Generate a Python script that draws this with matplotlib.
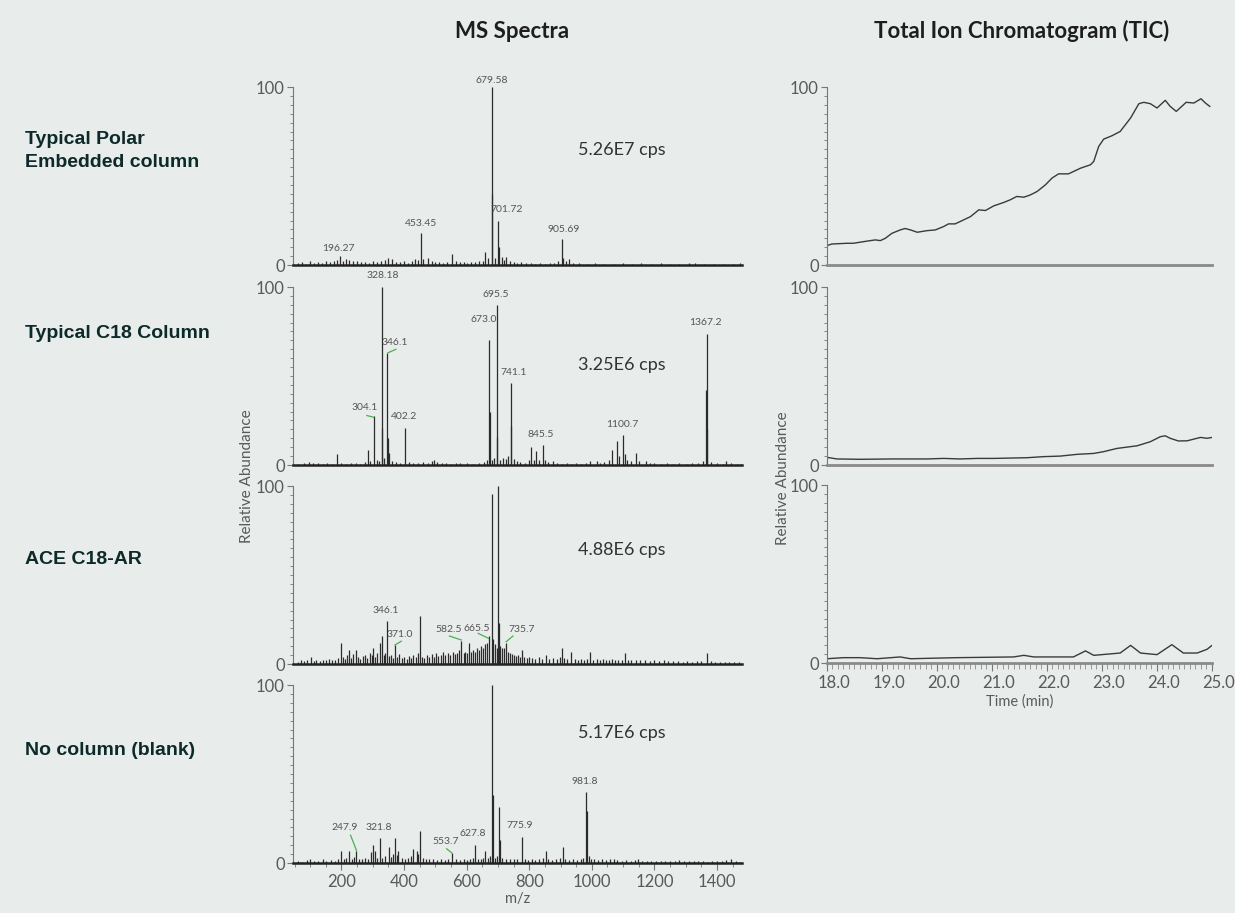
import matplotlib.pyplot as plt
import matplotlib.transforms as mtransforms
from matplotlib.ticker import MultipleLocator, FixedLocator

BG = '#e8ecea'
INK = '#2b2b2b'
GREY = '#5a5a5a'
GREEN = '#4caf50'
NARROW = ['Lato', 'DejaVu Sans']

row_names = ["Typical Polar\nEmbedded column", "Typical C18 Column", "ACE C18-AR", "No column (blank)"]
cps_text = ["5.26E7 cps", "3.25E6 cps", "4.88E6 cps", "5.17E6 cps"]

# --- MS spectra (m/z, relative abundance) ---
polar_mz = [62, 75, 88, 100, 112, 125, 138, 150, 163, 175, 185, 196.27, 205, 214, 225, 238, 250, 262, 275, 288,
            300, 312, 325, 338, 350, 362, 375, 388, 400, 412, 425, 436, 445, 453.45, 462, 475, 488, 500, 512, 525,
            538, 553, 565, 578, 590, 602, 615, 628, 640, 652, 659, 668, 679.58, 681.6, 690, 701.72, 703.7, 712, 720,
            726, 738, 750, 762, 775, 790, 805, 820, 835, 850, 865, 880, 893, 905.69, 907.7, 918, 927, 940, 960, 985,
            1010, 1040, 1070, 1100, 1130, 1156, 1190, 1220, 1250, 1280, 1310, 1329, 1360, 1390, 1420, 1450, 1475]
polar_int = [1.0, 1.5, 0.8, 2.5, 1.2, 1.8, 1.0, 2.2, 1.5, 2.0, 3.0, 5.0, 2.5, 3.5, 2.8, 2.0, 2.5, 1.5, 1.8, 1.2,
             2.0, 1.5, 2.2, 3.0, 4.0, 3.2, 1.8, 1.5, 2.0, 1.2, 2.5, 3.5, 3.0, 18, 3.2, 4.0, 2.0, 1.5, 1.8, 1.2,
             1.5, 6.0, 2.0, 1.5, 1.8, 1.2, 1.5, 1.8, 2.0, 2.5, 7.5, 4.0, 100, 40, 4.0, 25, 10, 4.5, 3.0,
             4.5, 2.0, 1.5, 1.2, 1.5, 1.0, 1.2, 0.8, 1.0, 0.8, 1.0, 1.2, 2.0, 14.5, 4.0, 2.0, 3.5, 1.2, 1.0, 0.8,
             1.0, 0.8, 0.7, 1.0, 0.8, 1.2, 0.7, 0.9, 0.8, 0.7, 0.9, 1.2, 0.8, 0.7, 0.8, 0.7, 0.9]

c18_mz = [62, 80, 95, 110, 125, 140, 155, 170, 187, 200, 215, 230, 245, 260, 275, 285, 292, 304.1, 312, 320,
          328.18, 330.2, 336, 346.1, 348.1, 352, 362, 375, 388, 402.2, 415, 430, 445, 460, 475, 490, 497, 505, 520,
          535, 550, 565, 580, 600, 620, 640, 655, 665, 673.0, 675, 680, 687, 695.5, 697.5, 705, 715, 725, 733,
          741.1, 743, 750, 760, 770, 785, 800, 806, 815, 821, 832, 845.5, 850, 860, 875, 890, 905, 920, 935, 950,
          965, 980, 995, 1016, 1025, 1040, 1055, 1065, 1080, 1088, 1100.7, 1105, 1112, 1125, 1140, 1150, 1173,
          1185, 1200, 1220, 1240, 1260, 1280, 1300, 1320, 1340, 1355, 1365, 1367.2, 1369, 1380, 1400, 1420, 1430,
          1445, 1465, 1478]
c18_int = [0.8, 1.0, 1.5, 1.0, 1.2, 0.8, 1.0, 0.8, 6.0, 1.0, 0.8, 1.2, 1.0, 0.8, 1.5, 8.5, 2.0, 27.5, 3.0, 2.0,
           100, 21, 4.0, 63, 15, 7.0, 2.5, 1.5, 1.2, 21, 1.5, 1.0, 1.2, 1.5, 1.0, 2.0, 3.0, 1.5, 1.0,
           1.2, 0.8, 1.0, 1.2, 1.0, 0.8, 1.2, 1.5, 3.0, 70.5, 30, 3.0, 4.0, 90, 16, 3.0, 4.0, 3.5, 5.0,
           46, 22, 3.5, 2.0, 1.5, 1.2, 3.0, 10, 3.0, 8.0, 3.0, 11, 3.0, 1.5, 2.5, 1.0, 0.8, 1.0, 0.8, 1.0,
           0.8, 1.2, 2.5, 2.5, 1.2, 1.5, 3.0, 8.5, 13.5, 5.0, 17, 6.0, 3.0, 2.0, 7.0, 2.0, 2.0,
           1.2, 1.0, 0.8, 1.0, 0.8, 1.0, 0.8, 1.0, 1.2, 2.0, 42, 73.5, 20, 1.5, 1.0, 0.8, 2.5,
           1.0, 0.8, 0.8]

ace_mz = [62, 70, 80, 90, 104, 112, 120, 130, 140, 150, 160, 170, 180, 190, 199, 205, 212, 218, 223, 230,
          238, 245, 252, 260, 268, 275, 283, 290, 296, 301, 308, 315, 322, 329, 335, 340, 346.1, 352, 358, 364,
          371.0, 378, 385, 392, 400, 408, 415, 422, 430, 438, 445, 452, 458, 465, 472, 480, 488, 495, 502, 510,
          518, 525, 532, 540, 547, 555, 562, 570, 576, 582.5, 590, 596, 602, 609, 615, 621, 627, 633, 640, 646,
          652, 658, 665.5, 670, 679.6, 684, 690, 696, 701.7, 704, 708, 713, 719, 726, 732, 738, 744, 750, 757,
          765, 772, 776, 784, 792, 800, 810, 820, 830, 840, 852, 862, 875, 888, 898, 905, 912, 920, 933, 945,
          955, 965, 975, 985, 994, 1005, 1015, 1025, 1035, 1045, 1055, 1065, 1075, 1085, 1095, 1106, 1115, 1125,
          1140, 1155, 1170, 1185, 1200, 1215, 1230, 1245, 1260, 1275, 1290, 1305, 1320, 1335, 1350, 1368, 1380,
          1395, 1410, 1425, 1440, 1455, 1470]
ace_int = [1.0, 2.0, 1.5, 2.5, 4.0, 1.5, 2.0, 1.5, 2.5, 2.0, 3.0, 2.0, 2.5, 3.5, 12, 4.0, 3.0, 5.0, 8.0, 3.5,
           5.5, 8.0, 4.0, 3.0, 4.5, 5.0, 3.5, 6.0, 5.0, 9.0, 4.0, 6.0, 12, 16, 5.0, 6.0, 24, 4.5, 5.0, 3.5,
           10.5, 4.0, 5.5, 3.5, 4.0, 3.0, 4.5, 3.5, 5.0, 4.0, 6.0, 27, 4.0, 3.5, 5.0, 4.0, 5.5, 4.0, 6.0, 4.5,
           5.0, 6.5, 5.0, 6.0, 5.0, 7.0, 5.5, 6.0, 8.0, 13, 6.0, 7.0, 6.0, 12, 7.0, 8.0, 7.0, 9.0, 8.0, 10,
           9.0, 11, 12, 16, 95.5, 14, 11, 9.0, 100, 23, 10, 9.0, 9.0, 12, 7.0, 6.0, 5.5, 5.0, 4.5,
           5.0, 4.0, 8.0, 4.0, 3.5, 4.0, 3.5, 3.0, 4.0, 3.0, 5.0, 3.0, 3.5, 3.0, 4.0, 9.0, 3.5, 3.0, 7.0, 3.0,
           2.5, 3.0, 2.5, 3.0, 7.0, 2.5, 3.0, 2.5, 3.0, 2.5, 2.0, 3.0, 2.5, 2.0, 2.5, 6.0, 2.0, 2.5,
           2.0, 2.5, 2.0, 1.5, 2.0, 1.5, 2.0, 1.5, 1.8, 1.5, 1.2, 1.5, 1.2, 1.5, 1.8, 6.0, 1.5,
           1.2, 1.0, 1.2, 1.0, 1.2, 1.0]

blank_mz = [62, 75, 90, 100, 112, 125, 140, 152, 165, 178, 190, 199, 208, 215, 223, 232, 240, 247.9, 256, 265,
            275, 285, 295, 301, 306, 314, 321.8, 330, 340, 352, 358, 364, 370, 376, 382, 392, 402, 412, 422, 430,
            440, 446, 452, 460, 470, 480, 492, 505, 518, 530, 540, 553.7, 565, 578, 590, 600, 610, 620, 627.8, 635,
            645, 652, 659, 668, 674, 680.6, 683, 690, 697, 703.8, 706, 714, 725, 738, 750, 762, 775.9, 785, 795, 808,
            820, 832, 845, 852, 860, 872, 885, 897, 908, 915, 928, 940, 952, 965, 972, 981.8, 984, 990, 997, 1008,
            1020, 1032, 1045, 1058, 1070, 1082, 1095, 1110, 1125, 1138, 1148, 1160, 1175, 1190, 1205, 1220, 1235,
            1250, 1265, 1280, 1295, 1310, 1325, 1340, 1355, 1370, 1385, 1400, 1415, 1430, 1446, 1460, 1475]
blank_int = [1.0, 0.8, 1.5, 2.5, 1.0, 1.2, 2.0, 1.0, 1.5, 1.2, 2.5, 7.0, 2.0, 3.0, 6.5, 2.5, 3.5, 7.0, 2.5, 2.0,
             3.0, 2.5, 6.0, 10, 7.0, 3.0, 14, 3.0, 4.0, 9.0, 3.5, 5.0, 14, 4.5, 7.0, 3.0, 2.0, 3.0, 4.0, 8.0,
             7.0, 5.0, 18, 3.0, 2.5, 2.0, 2.5, 1.5, 2.0, 1.5, 2.0, 5.5, 2.0, 1.5, 2.0, 1.5, 2.0, 3.0, 10, 2.5,
             2.0, 3.0, 7.0, 3.0, 4.0, 100, 38, 3.0, 4.0, 31.5, 13, 3.0, 2.0, 2.5, 2.0, 2.5, 14.6, 2.0, 1.5, 2.0,
             1.5, 2.0, 3.0, 7.0, 2.0, 1.5, 2.0, 3.0, 9.0, 2.0, 1.5, 2.0, 1.5, 2.5, 3.0, 40, 29, 4.0, 2.5, 2.0,
             1.5, 2.0, 1.5, 2.0, 2.5, 1.5, 1.2, 1.5, 1.2, 1.5, 2.5, 1.2, 1.0, 1.2, 1.0, 1.2, 1.0,
             1.2, 1.0, 1.5, 1.0, 1.2, 1.0, 1.2, 1.0, 0.8, 1.2, 1.0, 1.2, 1.5, 2.5, 1.0, 0.8]

# peak labels: text, label position (m/z, abundance), optional green leader
polar_labels = [("196.27", 190, 9.3, None), ("453.45", 455, 23.4, None), ("679.58", 681, 103.5, None),
                ("701.72", 728, 31, None), ("905.69", 910, 20, None)]
c18_labels = [("328.18", 331, 106.5, None), ("695.5", 692, 96, None), ("673.0", 653, 82, None),
              ("346.1", 370, 68.6, (348, 63, 374, 65)), ("741.1", 750, 51.8, None),
              ("304.1", 273, 32.3, (281, 27.8, 303, 26.8)), ("402.2", 399, 27, None),
              ("845.5", 838, 17.4, None), ("1100.7", 1098, 23, None), ("1367.2", 1363, 80, None)]
ace_labels = [("346.1", 340, 29.8, None), ("371.0", 387, 16.3, (371, 10.7, 391, 12.8)),
              ("582.5", 542, 19.5, (545, 15.7, 583, 13.5)), ("665.5", 631, 20, (637, 17.2, 670, 14.4)),
              ("735.7", 776, 19.5, (748, 15.7, 726, 12.5))]
blank_labels = [("247.9", 209, 20, (229, 15.6, 248, 7)), ("321.8", 318, 20, None),
                ("553.7", 533, 11.8, (536, 8, 553, 5.6)), ("627.8", 620, 16.5, None),
                ("775.9", 771, 21, None), ("981.8", 977, 46, None)]

# --- TIC traces (time in min, relative abundance) ---
tic_polar_t = [18.0, 18.09, 18.36, 18.48, 18.6, 18.79, 18.88, 18.97, 19.06, 19.18, 19.33, 19.42, 19.52, 19.64,
               19.82, 19.97, 20.12, 20.21, 20.33, 20.42, 20.61, 20.76, 20.88, 21.03, 21.21, 21.33, 21.45, 21.58,
               21.70, 21.82, 21.97, 22.09, 22.21, 22.39, 22.48, 22.61, 22.79, 22.85, 22.94, 23.03, 23.18, 23.33,
               23.52, 23.67, 23.76, 23.88, 24.0, 24.15, 24.24, 24.35, 24.45, 24.53, 24.67, 24.8, 24.88, 24.96]
tic_polar_i = [10.9, 11.8, 12.2, 12.2, 12.8, 13.7, 14.1, 13.7, 15.0, 17.8, 19.7, 20.5, 19.7, 18.4,
               19.3, 19.7, 21.6, 23.1, 23.1, 24.4, 27.2, 31.0, 30.6, 33.2, 35.1, 36.6, 38.5, 38.1,
               39.4, 41.3, 45.0, 48.8, 51.2, 51.2, 52.5, 54.4, 56.3, 58.2, 66.6, 70.7, 72.6, 75.0,
               82.6, 90.6, 91.4, 90.6, 88.2, 92.5, 89.1, 86.3, 89.1, 91.4, 91.0, 93.4, 91.0, 89.1]

tic_c18_t = [18.0, 18.18, 18.6, 19.2, 19.82, 20.12, 20.42, 20.73, 21.03, 21.64, 21.94, 22.24, 22.55, 22.85,
             23.03, 23.27, 23.64, 23.88, 24.06, 24.15, 24.24, 24.39, 24.55, 24.79, 24.91, 25.0]
tic_c18_i = [4.3, 3.4, 3.2, 3.4, 3.4, 3.7, 3.4, 3.7, 3.7, 4.1, 4.7, 5.0, 6.0, 6.5,
             7.5, 9.3, 10.8, 13.1, 15.9, 16.4, 15.0, 13.5, 13.6, 15.5, 15.0, 15.5]

tic_ace_t = [18.0, 18.3, 18.6, 18.91, 19.33, 19.52, 20.36, 21.39, 21.58, 21.76, 22.48, 22.7, 22.85, 23.33,
             23.52, 23.7, 24.0, 24.27, 24.48, 24.73, 24.91, 25.0]
tic_ace_i = [2.4, 3.0, 3.0, 2.4, 3.4, 2.4, 3.0, 3.4, 4.3, 3.4, 3.4, 6.8, 4.3, 5.6,
             9.9, 5.6, 4.7, 10.3, 5.6, 5.6, 7.7, 9.9]

spectra = [(polar_mz, polar_int, polar_labels), (c18_mz, c18_int, c18_labels),
           (ace_mz, ace_int, ace_labels), (blank_mz, blank_int, blank_labels)]
tics = [(tic_polar_t, tic_polar_i), (tic_c18_t, tic_c18_i), (tic_ace_t, tic_ace_i)]

W, H = 1235, 913
fig = plt.figure(figsize=(W / 100, H / 100), dpi=100, facecolor=BG)


def px_axes(x0, y_top, x1, y_bot):
    return fig.add_axes([x0 / W, 1 - y_bot / H, (x1 - x0) / W, (y_bot - y_top) / H])


def style_y(ax):
    ax.set_facecolor('none')
    for s in ('top', 'right'):
        ax.spines[s].set_visible(False)
    ax.spines['left'].set_color('#777777')
    ax.spines['left'].set_linewidth(0.8)
    ax.set_ylim(0, 100)
    ax.yaxis.set_major_locator(FixedLocator([0, 100]))
    ax.yaxis.set_minor_locator(MultipleLocator(5))
    ax.tick_params(axis='y', which='major', length=4, width=0.8, color='#777777', pad=2,
                   labelsize=12, labelcolor=GREY)
    ax.tick_params(axis='y', which='minor', length=2, width=0.6, color='#777777')
    for t in ax.get_yticklabels():
        t.set_family(NARROW)


spec_tops = [87, 287, 486, 685]
for k, (mz, inten, labels) in enumerate(spectra):
    ax = px_axes(293, spec_tops[k], 742, spec_tops[k] + 178)
    style_y(ax)
    ax.vlines(mz, 0, inten, color=INK, lw=0.9)
    ax.set_xlim(45, 1480)
    ax.spines['bottom'].set_color('#222222')
    ax.spines['bottom'].set_linewidth(1.8)
    for txt, lx, ly, lead in labels:
        ax.text(lx, ly, txt, ha='center', va='center', fontsize=7.5, color='#555555',
                family=NARROW, clip_on=False)
        if lead is not None:
            ax.plot([lead[0], lead[2]], [lead[1], lead[3]], color=GREEN, lw=0.9, clip_on=False)
    ax.text(1095, [64.5, 56, 64, 72.8][k], cps_text[k], ha='center', va='center',
            fontsize=13, color='#333333', family=NARROW)
    if k < 3:
        ax.tick_params(axis='x', which='both', bottom=False, labelbottom=False)
    else:
        ax.xaxis.set_major_locator(MultipleLocator(200))
        ax.xaxis.set_minor_locator(MultipleLocator(50))
        ax.tick_params(axis='x', which='major', length=5, width=0.8, color='#777777',
                       labelsize=12, labelcolor=GREY, pad=3)
        ax.tick_params(axis='x', which='minor', length=3, width=0.6, color='#777777')
        for t in ax.get_xticklabels():
            t.set_family(NARROW)
        ax.set_xlabel('m/z', fontsize=10.5, color=GREY, family=NARROW, labelpad=1)

tic_tops = [87, 287, 485]
shift = mtransforms.ScaledTranslation(7 / 100, 0, fig.dpi_scale_trans)
for k, (t, inten) in enumerate(tics):
    ax = px_axes(827, tic_tops[k], 1212, tic_tops[k] + 178)
    style_y(ax)
    ax.plot(t, inten, color='#3a3a3a', lw=1.0)
    ax.set_xlim(18, 25)
    ax.spines['bottom'].set_color('#8a8a8a')
    ax.spines['bottom'].set_linewidth(2.0)
    if k < 2:
        ax.tick_params(axis='x', which='both', bottom=False, labelbottom=False)
    else:
        ax.xaxis.set_major_locator(MultipleLocator(1.0))
        ax.xaxis.set_minor_locator(MultipleLocator(0.1))
        ax.xaxis.set_major_formatter('{x:.1f}')
        ax.tick_params(axis='x', which='major', length=6, width=0.8, color='#777777',
                       labelsize=12, labelcolor=GREY, pad=3)
        ax.tick_params(axis='x', which='minor', length=4, width=0.5, color='#777777')
        for tl in ax.get_xticklabels():
            tl.set_family(NARROW)
            tl.set_transform(tl.get_transform() + shift)
        ax.set_xlabel('Time (min)', fontsize=10.5, color=GREY, family=NARROW, labelpad=2)

# axis titles and y labels
fig.text(512 / W, 1 - 31 / H, 'MS Spectra', ha='center', va='center', fontsize=16,
         fontweight='bold', color='#1e1e1e', family=NARROW)
fig.text(1022 / W, 1 - 31 / H, 'Total Ion Chromatogram (TIC)', ha='center', va='center',
         fontsize=16, fontweight='bold', color='#1e1e1e', family=NARROW)
fig.text(247 / W, 1 - 476 / H, 'Relative Abundance', rotation=90, ha='center', va='center',
         fontsize=11, color=GREY, family=NARROW)
fig.text(783 / W, 1 - 478 / H, 'Relative Abundance', rotation=90, ha='center', va='center',
         fontsize=11, color=GREY, family=NARROW)

row_y = [151, 333, 560, 750]
for name, y in zip(row_names, row_y):
    fig.text(25 / W, 1 - y / H, name, ha='left', va='center', fontsize=14, fontweight='bold',
             color='#0d2a2a', family=['Liberation Sans', 'DejaVu Sans'], linespacing=1.4)

fig.savefig('out.png', dpi=100, facecolor=BG)
